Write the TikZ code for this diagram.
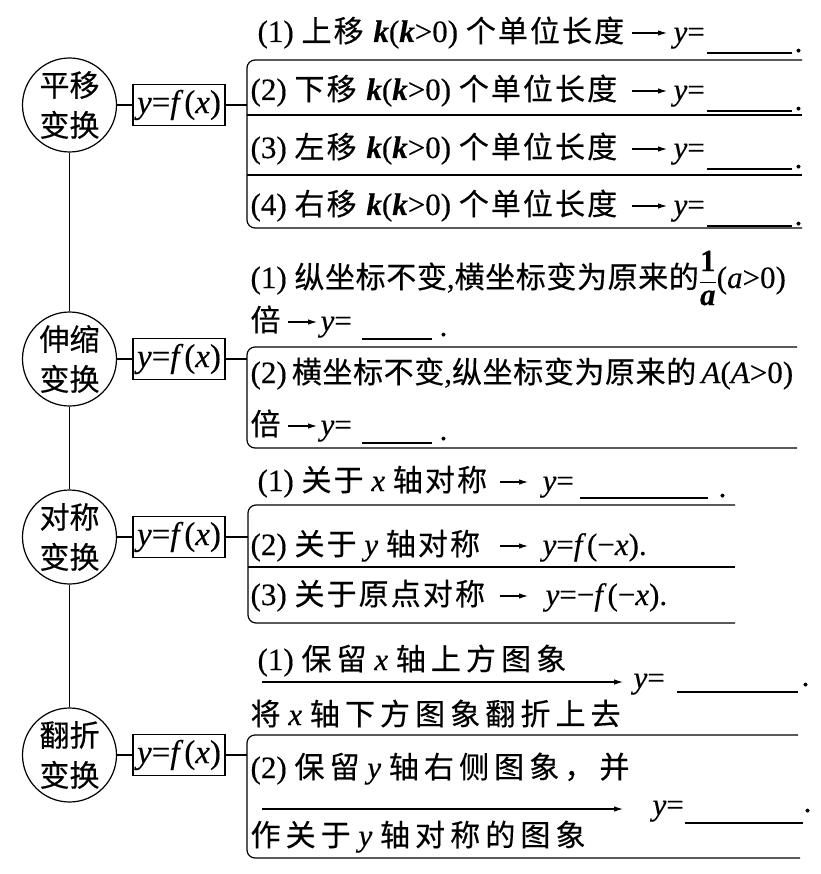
\documentclass[tikz,border=0pt]{standalone}
\usepackage{fontspec}
\setmainfont{Liberation Serif}[FakeBold=0.3]
\newfontfamily\cjkN[FakeBold=0.4]{Noto Sans CJK SC}
\newfontfamily\cjkA[LetterSpace=7,FakeBold=0.4]{Noto Sans CJK SC}
\newfontfamily\cjkC[LetterSpace=2,FakeBold=0.4]{Noto Sans CJK SC}
\newfontfamily\cjkB[LetterSpace=17,FakeBold=0.4]{Noto Sans CJK SC}
\newcommand\zsize{\fontsize{30}{34}\selectfont}
\newcommand\zh[1]{{\zsize\cjkA #1}}
\newcommand\zhc[1]{{\zsize\cjkC #1}}
\newcommand\zhw[1]{{\zsize\cjkB #1}}
\newcommand\mi[1]{\textit{#1}}
\newcommand\mk{\textbf{\textit{k}}}
\usetikzlibrary{arrows.meta}
\begin{document}
\begin{tikzpicture}[x=1pt,y=-1pt,line width=1.2pt,
  circ/.style={circle, draw, minimum size=94pt, inner sep=0pt, align=center, font=\fontsize{30}{40}\selectfont\cjkN},
  fbox/.style={draw, minimum width=92pt, minimum height=41pt, inner sep=0pt, font=\fontsize{33}{36}\selectfont},
  txt/.style={anchor=base west, inner sep=0pt, font=\fontsize{31}{34}\selectfont},
  arr/.style={-{Latex[length=9pt,width=5.5pt]}, line width=1.1pt},
  blank/.style={line width=1.1pt},
]
\useasboundingbox (0,0) rectangle (820,874);

% main circles
\node[circ] (p1) at (69.5,105) {平移\\变换};
\node[circ] (p2) at (69.5,359) {伸缩\\变换};
\node[circ] (p3) at (69.5,537) {对称\\变换};
\node[circ] (p4) at (69.5,755) {翻折\\变换};
\draw (p1) -- (p2);
\draw (p2) -- (p3);
\draw (p3) -- (p4);

% function boxes
\node[fbox] (f1) at (179,105) {\mi{y}=\mi{f}\kern1pt(\mi{x})};
\node[fbox] (f2) at (179,359) {\mi{y}=\mi{f}\kern1pt(\mi{x})};
\node[fbox] (f3) at (179,537) {\mi{y}=\mi{f}\kern1pt(\mi{x})};
\node[fbox] (f4) at (179,755) {\mi{y}=\mi{f}\kern1pt(\mi{x})};
\coordinate (k1) at (247,105);
\coordinate (k2) at (247,359);
\coordinate (k3) at (247.5,537);
\coordinate (k4) at (247,755);
\draw (p1) -- (f1);  \draw (f1) -- (k1);
\draw (p2) -- (f2);  \draw (f2) -- (k2);
\draw (p3) -- (f3);  \draw (f3) -- (k3);
\draw (p4) -- (f4);  \draw (f4) -- (k4);

% ---------- group 1: translation ----------
\draw[rounded corners=8pt] (802,60) -| (247,228) -- (802,228);
\draw (247,115) -- (802,115);
\draw (247,175) -- (802,175);
\foreach \i/\x/\b/\c in {1/257/42/上,2/250/100/下,3/250/158/左,4/250/215/右}{
  \node[txt] (a\i) at (\x,\b) {(\i) \zh{\c 移} \mk(\mk>0) \zh{个单位长度}};
  \coordinate (as\i) at (632,\b-9);
  \coordinate (ae\i) at (667,\b-9);
  \draw[arr] (as\i) -- (ae\i);
  \node[txt] (ay\i) at (673,\b) {\mi{y}=};
  \coordinate (ab\i) at (707,\b+11);
  \coordinate (ac\i) at (792,\b+11);
  \draw[blank] (ab\i) -- (ac\i);
  \node[txt] (ad\i) at (794,\b+10) {.};
}

% ---------- group 2: scaling ----------
\draw[rounded corners=8pt] (797,347) -| (247,448) -- (797,448);
\node[txt] (b1) at (250,288) {(1) \zhc{纵坐标不变},\zhc{横坐标变为原来的}$\displaystyle\frac{\mbox{\textbf{1}}}{\mbox{\textbf{\textit{a}}}}$(\mi{a}>0)};
\node[txt] (b2) at (250,383) {(2)\,\zhc{横坐标不变},\zhc{纵坐标变为原来的}\,\mi{A}(\mi{A}>0)};
\foreach \i/\b in {1/331,2/435}{
  \node[txt] (bb\i) at (250,\b) {\zhc{倍}};
  \coordinate (bs\i) at (288,\b-9);
  \coordinate (be\i) at (317,\b-9);
  \draw[arr] (bs\i) -- (be\i);
  \node[txt] (by\i) at (320,\b) {\mi{y}=};
  \coordinate (bk\i) at (362,\b+8);
  \coordinate (bl\i) at (432,\b+8);
  \draw[blank] (bk\i) -- (bl\i);
  \node[txt] (bd\i) at (439,\b+5) {.};
}

% ---------- group 3: symmetry ----------
\draw[rounded corners=8pt] (735,505) -| (248,623) -- (735,623);
\draw (248,567) -- (735,567);
\node[txt] (c1) at (257,491) {(1) \zh{关于} \mi{x} \zh{轴对称}};
\node[txt] (c2) at (250,555) {(2) \zh{关于} \mi{y} \zh{轴对称}};
\node[txt] (c3) at (250,605) {(3) \zh{关于原点对称}};
\foreach \i/\b in {1/491,2/555,3/605}{
  \coordinate (cs\i) at (500,\b-9);
  \coordinate (ce\i) at (528,\b-9);
  \draw[arr] (cs\i) -- (ce\i);
}
\node[txt] (cy1) at (542,491) {\mi{y}=};
\coordinate (cb1) at (580,498);
\coordinate (cc1) at (708,498);
\draw[blank] (cb1) -- (cc1);
\node[txt] (cd1) at (718,497) {.};
\node[txt] (cy2) at (542,555) {\mi{y}=\mi{f}\kern1pt(−\mi{x}).};
\node[txt] (cy3) at (545,605) {\mi{y}=−\mi{f}\kern1pt(−\mi{x}).};

% ---------- group 4: folding ----------
\draw[rounded corners=8pt] (798,735) -| (247,858) -- (800,858);
\node[txt] (d1) at (257,670) {(1) \zhw{保留} \mi{x} \zhw{轴上方图象}};
\node[txt] (d1b) at (250,725) {\zhw{将} \mi{x} \zhw{轴下方图象翻折上去}};
\node[txt] (d2) at (250,778) {(2) \zhw{保留} \mi{y} \zhw{轴右侧图象，并}};
\node[txt] (d2b) at (250,846) {\zhw{作关于} \mi{y} \zhw{轴对称的图象}};
\coordinate (ds1) at (262,682);
\coordinate (de1) at (623,682);
\draw[arr] (ds1) -- (de1);
\coordinate (ds2) at (262,809);
\coordinate (de2) at (623,809);
\draw[arr] (ds2) -- (de2);
\node[txt] (dy1) at (633,688) {\mi{y}=};
\node[txt] (dy2) at (652,815) {\mi{y}=};
\coordinate (db1) at (677,692);
\coordinate (dc1) at (798,692);
\draw[blank] (db1) -- (dc1);
\coordinate (db2) at (685,823);
\coordinate (dc2) at (803,823);
\draw[blank] (db2) -- (dc2);
\node[txt] (dd1) at (801,686) {.};
\node[txt] (dd2) at (803,812) {.};
\end{tikzpicture}
\end{document}
